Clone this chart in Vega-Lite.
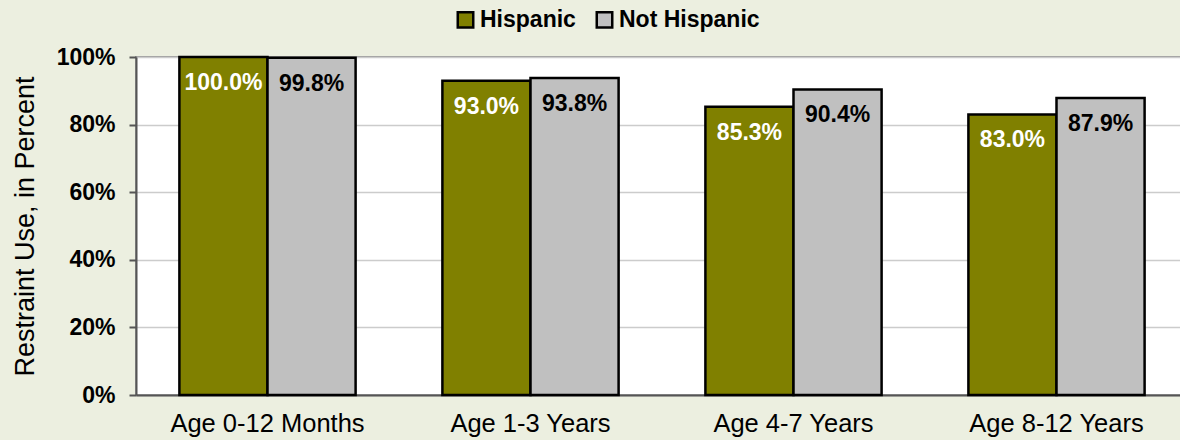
{
  "$schema": "https://vega.github.io/schema/vega-lite/v6.json",
  "autosize": "none",
  "width": 1052,
  "height": 338,
  "padding": {"left": 136, "top": 57, "right": 0, "bottom": 45},
  "background": "#ECEFE0",
  "config": {
    "font": "Liberation Sans",
    "view": {"fill": "white", "stroke": "#9a9a9a", "strokeWidth": 2}
  },
  "data": {
    "values": [
      {"age": "Age 0-12 Months", "group": "Hispanic", "value": 1.0},
      {"age": "Age 0-12 Months", "group": "Not Hispanic", "value": 0.998},
      {"age": "Age 1-3 Years", "group": "Hispanic", "value": 0.93},
      {"age": "Age 1-3 Years", "group": "Not Hispanic", "value": 0.938},
      {"age": "Age 4-7 Years", "group": "Hispanic", "value": 0.853},
      {"age": "Age 4-7 Years", "group": "Not Hispanic", "value": 0.904},
      {"age": "Age 8-12 Years", "group": "Hispanic", "value": 0.83},
      {"age": "Age 8-12 Years", "group": "Not Hispanic", "value": 0.879}
    ]
  },
  "encoding": {
    "x": {
      "field": "age", "type": "nominal", "sort": null,
      "scale": {"paddingInner": 0.33, "paddingOuter": 0.165},
      "axis": {"title": null, "labelAngle": 0, "labelFontSize": 25.5, "labelLimit": 0, "labelColor": "black", "ticks": false, "labelPadding": 16, "domainColor": "#555", "domainWidth": 2}
    },
    "xOffset": {"field": "group", "type": "nominal", "scale": {"paddingInner": 0, "paddingOuter": 0}},
    "y": {
      "field": "value", "type": "quantitative",
      "scale": {"domain": [0, 1], "nice": false},
      "axis": {"title": "Restraint Use, in Percent", "titleFontSize": 27, "titleFontWeight": "normal", "titleColor": "black", "titlePadding": 17,
        "format": ".0%", "values": [0, 0.2, 0.4, 0.6, 0.8, 1.0], "labelFontSize": 23, "labelFontWeight": "bold", "labelColor": "black", "labelPadding": 14,
        "tickSize": 7, "tickColor": "#555", "tickWidth": 2, "domainColor": "#555", "domainWidth": 2, "gridColor": "#cccccc", "gridWidth": 1.5}
    }
  },
  "layer": [
    {
      "mark": {"type": "bar", "stroke": "black", "strokeWidth": 2.5},
      "encoding": {
        "color": {
          "field": "group", "type": "nominal",
          "scale": {"domain": ["Hispanic", "Not Hispanic"], "range": ["#808000", "#C0C0C0"]},
          "legend": {"title": null, "orient": "none", "direction": "horizontal", "legendX": 318, "legendY": -49,
            "symbolType": "square", "symbolSize": 240, "symbolStrokeColor": "black", "symbolStrokeWidth": 2.5,
            "labelFontSize": 23, "labelFontWeight": "bold", "labelColor": "black", "columnPadding": 15, "labelOffset": 3}
        }
      }
    },
    {
      "mark": {"type": "text", "fontSize": 23, "fontWeight": "bold", "baseline": "middle", "dy": 26},
      "encoding": {
        "text": {"field": "value", "type": "quantitative", "format": ".1%"},
        "color": {
          "field": "group", "type": "nominal",
          "scale": {"domain": ["Hispanic", "Not Hispanic"], "range": ["white", "black"]},
          "legend": null
        }
      }
    }
  ],
  "resolve": {"scale": {"color": "independent"}}
}
